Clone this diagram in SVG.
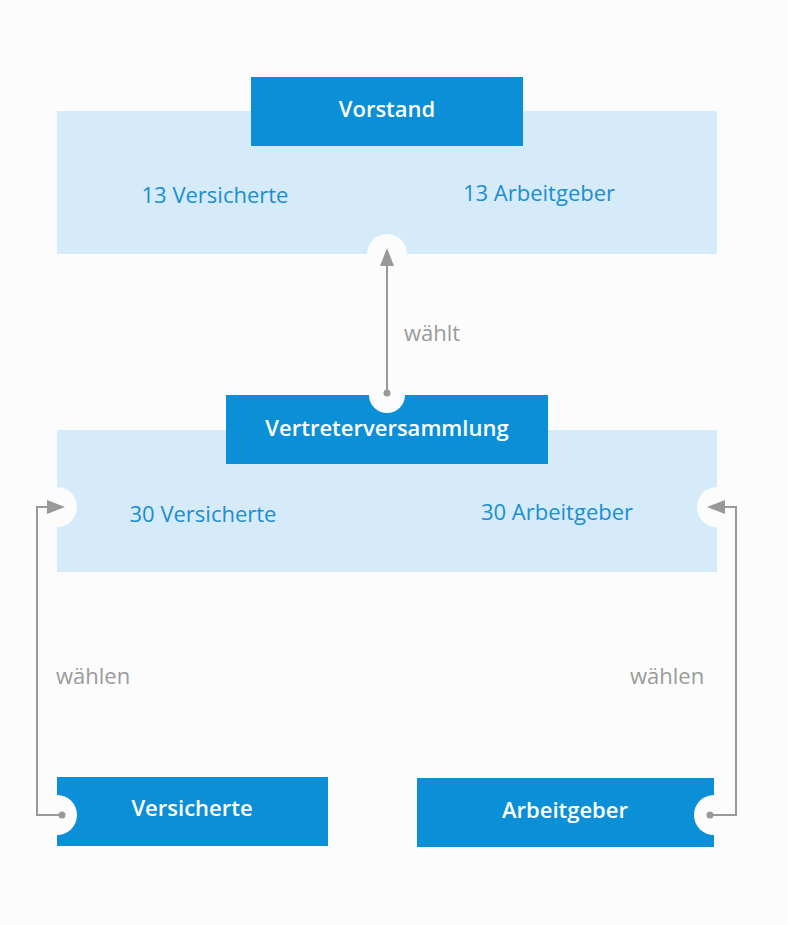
<svg xmlns="http://www.w3.org/2000/svg" width="788" height="925" viewBox="0 0 788 925">
<style>
.light{fill:#d6ebfa}.dark{fill:#0b8fd6}.notch{fill:#fcfcfc}
.t{font-family:"Open Sans","Liberation Sans",sans-serif;font-size:22px}
.w{fill:#fff;font-weight:600;text-anchor:middle}
.b{fill:#1a8ed2;text-anchor:middle}
.g{fill:#9a9a9a}
.ln{stroke:#999;stroke-width:2;fill:none}
</style>
<defs><marker id="ah" markerWidth="10" markerHeight="10" refX="9" refY="5" orient="auto" markerUnits="userSpaceOnUse"><path d="M0,0 L10,5 L0,10 Z" transform="scale(1.8) translate(-4.5,-2.2)" fill="#999"/></marker></defs>
<rect width="788" height="925" fill="#fcfcfc"/>
<g id="vorstand">
<rect class="light" x="57" y="111" width="660" height="143"/>
<rect class="dark" x="251" y="77" width="272" height="69"/>
<circle class="notch" cx="387" cy="254" r="20"/>
<text class="t w" x="387" y="117">Vorstand</text>
<text class="t b" x="215" y="203">13 Versicherte</text>
<text class="t b" x="539" y="201">13 Arbeitgeber</text>
</g>
<g id="vv">
<rect class="light" x="57" y="430" width="660" height="142"/>
<rect class="dark" x="226" y="395" width="322" height="69"/>
<circle class="notch" cx="387" cy="395" r="18"/>
<circle class="notch" cx="57" cy="507" r="20"/>
<circle class="notch" cx="717" cy="507" r="20"/>
<text class="t w" x="387" y="436">Vertreterversammlung</text>
<text class="t b" x="203" y="522">30 Versicherte</text>
<text class="t b" x="557" y="520">30 Arbeitgeber</text>
</g>
<g id="versicherte">
<rect class="dark" x="57" y="777" width="271" height="69"/>
<circle class="notch" cx="57" cy="815" r="20"/>
<text class="t w" x="192" y="816">Versicherte</text>
</g>
<g id="arbeitgeber">
<rect class="dark" x="417" y="778" width="297" height="69"/>
<circle class="notch" cx="714" cy="815" r="20"/>
<text class="t w" x="565" y="818">Arbeitgeber</text>
</g>
<g id="connectors">
<line class="ln" x1="387" y1="393" x2="387" y2="251"/>
<path d="M387,248 L380,266 L394,266 Z" fill="#999"/>
<circle cx="387" cy="393" r="3.5" fill="#999"/>
<polyline class="ln" points="62,815 37,815 37,507 50,507"/>
<path d="M65,507 L47,500 L47,514 Z" fill="#999"/>
<circle cx="62" cy="815" r="3.5" fill="#999"/>
<polyline class="ln" points="710,815 736,815 736,507 722,507"/>
<path d="M707,507 L725,500 L725,514 Z" fill="#999"/>
<circle cx="710" cy="815" r="3.5" fill="#999"/>
<text class="t g" x="404" y="341">wählt</text>
<text class="t g" x="56" y="684">wählen</text>
<text class="t g" x="630" y="684">wählen</text>
</g>
</svg>
